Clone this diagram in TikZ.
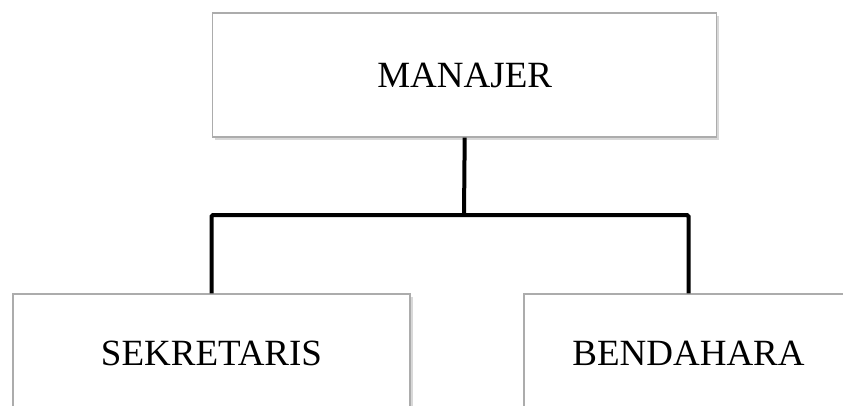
\documentclass[tikz,border=0pt]{standalone}
\usepackage{fontspec}
\setmainfont{Liberation Serif}
\usetikzlibrary{shadows}
\begin{document}
\begin{tikzpicture}[x=1pt,y=-1pt,
  orgbox/.style={draw=gray!65,line width=1.3pt,fill=white,rectangle,inner sep=0pt,
    font=\fontsize{37}{44}\selectfont,
    drop shadow={shadow xshift=2.5pt,shadow yshift=-2.5pt,fill=gray!60,opacity=0.5}},
  link/.style={line width=4pt,black,rounded corners=1.5pt}]
\useasboundingbox (0,0) rectangle (843,405);
\clip (0,0) rectangle (843,405);
\fill[white] (0,0) rectangle (843,405);
\node[orgbox,minimum width=504pt,minimum height=124pt] (man) at (464.7,75) {MANAJER};
\node[orgbox,minimum width=397pt,minimum height=118pt] (sek) at (211.5,353) {SEKRETARIS};
\node[orgbox,minimum width=329pt,minimum height=118pt] (ben) at (688.5,353) {BENDAHARA};
\coordinate (j) at (464,215);
\draw[link] (man.south) -- (j);
\draw[link] (sek.north) -- (sek.north |- j) -- (ben.north |- j) -- (ben.north);
\end{tikzpicture}
\end{document}
